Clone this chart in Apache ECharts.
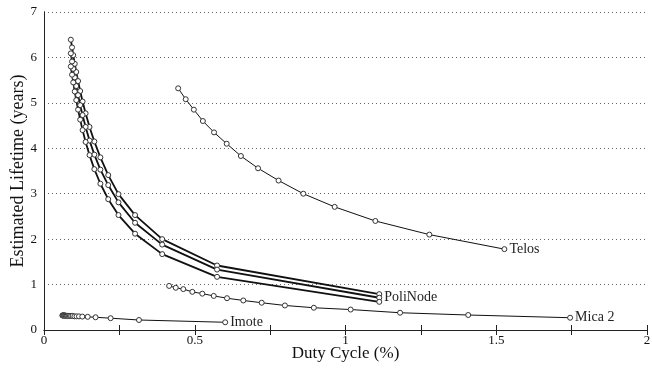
<!DOCTYPE html>
<html>
<head>
<meta charset="utf-8">
<script src="https://cdn.jsdelivr.net/npm/echarts@6/dist/echarts.min.js"></script>
<style>
  html, body { margin: 0; padding: 0; background: #fff; }
  #chart { width: 652px; height: 368px; }
</style>
</head>
<body>
<div id="chart"></div>
<script>
// PoliNode: three curves sharing the same duty cycle points
const poliX = [0.089, 0.093, 0.097, 0.102, 0.107, 0.113, 0.120, 0.128, 0.138, 0.151, 0.167, 0.187, 0.213, 0.247, 0.302, 0.392, 0.574, 1.112]
const poliTopY = [6.39, 6.22, 6.05, 5.86, 5.68, 5.48, 5.26, 5.03, 4.77, 4.47, 4.15, 3.80, 3.41, 2.99, 2.53, 2.00, 1.42, 0.79]
const poliMidY = [6.09, 5.91, 5.75, 5.56, 5.37, 5.17, 4.95, 4.73, 4.47, 4.17, 3.86, 3.53, 3.19, 2.81, 2.36, 1.88, 1.33, 0.71]
const poliLowY = [5.80, 5.62, 5.45, 5.25, 5.06, 4.85, 4.63, 4.40, 4.14, 3.85, 3.54, 3.22, 2.88, 2.53, 2.12, 1.67, 1.17, 0.62]

const telosX = [0.445, 0.470, 0.497, 0.527, 0.564, 0.606, 0.653, 0.710, 0.778, 0.860, 0.964, 1.099, 1.278, 1.527]
const telosY = [5.32, 5.08, 4.85, 4.60, 4.35, 4.10, 3.83, 3.56, 3.29, 3.00, 2.71, 2.40, 2.10, 1.78]

const micaX = [0.415, 0.437, 0.462, 0.492, 0.525, 0.563, 0.607, 0.661, 0.722, 0.799, 0.895, 1.017, 1.181, 1.407, 1.745]
const micaY = [0.97, 0.93, 0.90, 0.84, 0.80, 0.75, 0.70, 0.65, 0.60, 0.54, 0.49, 0.45, 0.38, 0.33, 0.27]

const imoteX = [0.061, 0.062, 0.064, 0.066, 0.068, 0.070, 0.072, 0.075, 0.078, 0.082, 0.086, 0.090, 0.095, 0.101, 0.108, 0.116, 0.127, 0.145, 0.171, 0.221, 0.315, 0.601]
const imoteY = [0.32, 0.32, 0.32, 0.32, 0.32, 0.32, 0.31, 0.31, 0.31, 0.31, 0.31, 0.31, 0.31, 0.30, 0.30, 0.30, 0.295, 0.29, 0.28, 0.26, 0.22, 0.17]

const xTicks = [0, 0.5, 1, 1.5, 2]

const serif = "Liberation Serif"

function pts(xs, ys) {
  return xs.map((x, i) => [x, ys[i]])
}

function curve(name, xs, ys, width, label) {
  return {
    name: name,
    type: "line",
    data: pts(xs, ys),
    symbol: "circle",
    symbolSize: 5,
    showAllSymbol: true,
    animation: false,
    lineStyle: { color: "#111", width: width },
    itemStyle: { color: "#fff", borderColor: "#333", borderWidth: 1 },
    endLabel: {
      show: !!label,
      formatter: label || "",
      distance: 5,
      fontFamily: serif,
      fontSize: 14,
      color: "#222"
    }
  }
}

const chart = echarts.init(document.getElementById("chart"))

chart.setOption({
  backgroundColor: "#fff",
  grid: { left: 44, right: 5, top: 12, bottom: 38, outerBoundsMode: "none" },
  xAxis: [
    {
      type: "value",
      min: 0,
      max: 2,
      interval: 0.25,
      name: "Duty Cycle (%)",
      nameLocation: "middle",
      nameGap: 15,
      nameMoveOverlap: false,
      nameTextStyle: { fontFamily: serif, fontSize: 17, color: "#111" },
      axisLine: { lineStyle: { color: "#222", width: 1 } },
      axisTick: { inside: true, length: 5, lineStyle: { color: "#222" } },
      axisLabel: {
        margin: 4,
        fontFamily: serif,
        fontSize: 13,
        color: "#111",
        formatter: v => (xTicks.includes(v) ? String(v) : "")
      },
      splitLine: { show: false }
    },
    {
      type: "value",
      position: "top",
      min: 0,
      max: 2,
      interval: 0.25,
      axisLine: { lineStyle: { color: "#222", width: 1 } },
      axisTick: { inside: true, length: 5, lineStyle: { color: "#222" } },
      axisLabel: { show: false },
      splitLine: { show: false }
    }
  ],
  yAxis: [
    {
      type: "value",
      min: 0,
      max: 7,
      interval: 1,
      name: "Estimated Lifetime (years)",
      nameLocation: "middle",
      nameGap: 17,
      nameMoveOverlap: false,
      nameTextStyle: { fontFamily: serif, fontSize: 18, color: "#111" },
      axisLine: { show: true, lineStyle: { color: "#222", width: 1 } },
      axisTick: { show: false },
      axisLabel: { margin: 7, fontFamily: serif, fontSize: 13, color: "#111" },
      splitLine: { show: true, lineStyle: { color: "#666", type: [1, 3], width: 1 } }
    },
    {
      type: "value",
      position: "right",
      min: 0,
      max: 7,
      interval: 1,
      axisLine: { show: true, lineStyle: { color: "#222", width: 1 } },
      axisTick: { show: false },
      axisLabel: { show: false },
      splitLine: { show: false }
    }
  ],
  series: [
    curve("PoliNode high", poliX, poliTopY, 1.8, null),
    curve("PoliNode", poliX, poliMidY, 1.8, "PoliNode"),
    curve("PoliNode low", poliX, poliLowY, 1.8, null),
    curve("Telos", telosX, telosY, 1, "Telos"),
    curve("Mica 2", micaX, micaY, 1, "Mica 2"),
    curve("Imote", imoteX, imoteY, 1, "Imote")
  ]
})
</script>
</body>
</html>
